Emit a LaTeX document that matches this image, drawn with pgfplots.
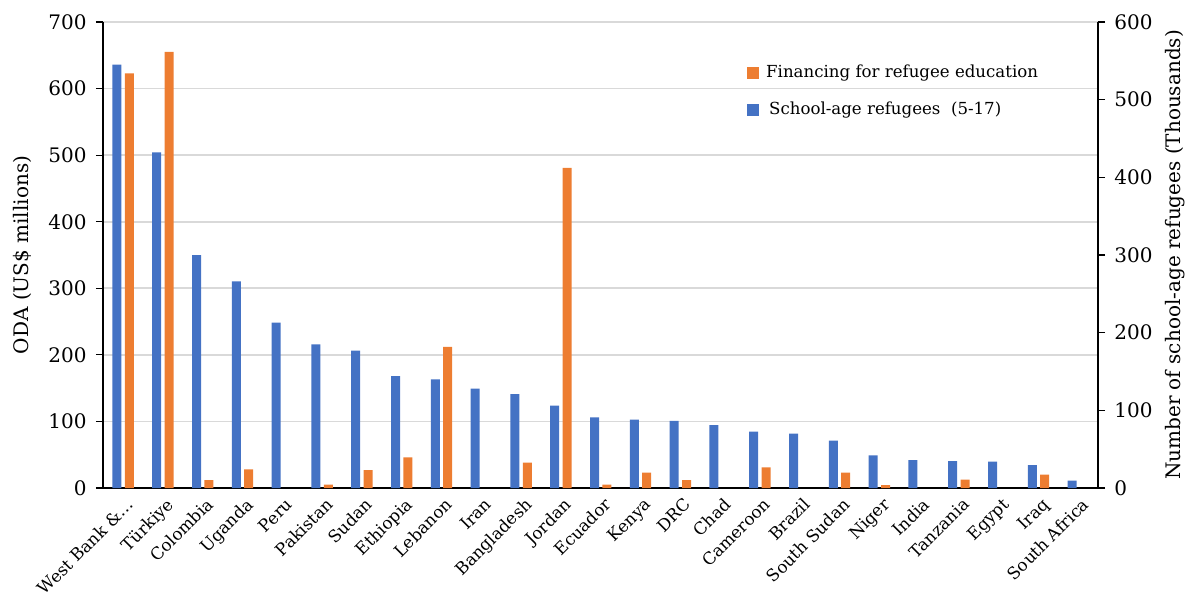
\documentclass[border=0pt]{standalone}
\usepackage{fontspec}
\setmainfont{DejaVu Serif}
\usepackage{pgfplots}
\pgfplotsset{compat=1.18}
\definecolor{cblue}{HTML}{4472C4}
\definecolor{corange}{HTML}{ED7D31}
\definecolor{cgrid}{HTML}{D9D9D9}
\begin{document}
\begin{tikzpicture}
\path[use as bounding box] (-51.5pt,-51.5pt) rectangle (541.5pt,244pt);
\pgfplotsset{
  common/.style={
    at={(0,0)}, anchor=south west,
    scale only axis, width=497.5pt, height=233pt,
    xmin=-0.5, xmax=24.5,
    ybar, bar width=4.5pt,
    /pgf/number format/assume math mode=true,
    yticklabel style={font=\fontsize{10}{11}\selectfont, inner sep=4.5pt},
    tick align=outside, major tick length=3.5pt,
    tick style={black, line width=0.6pt},
    axis line style={black, line width=0.8pt},
    ylabel style={font=\fontsize{9.4}{11}\selectfont},
  }
}
\begin{axis}[common,
  axis x line*=bottom, axis y line*=left,
  ymin=0, ymax=700, ytick={0,100,...,700},
  ymajorgrids, grid style={cgrid, line width=0.9pt},
  xtick={0,...,24}, xtick style={draw=none},
  xticklabels={West Bank \&…, Türkiye, Colombia, Uganda, Peru, Pakistan, Sudan, Ethiopia, Lebanon, Iran, Bangladesh, Jordan, Ecuador, Kenya, DRC, Chad, Cameroon, Brazil, South Sudan, Niger, India, Tanzania, Egypt, Iraq, South Africa},
  xticklabel style={rotate=45, anchor=north east, inner sep=1pt, yshift=-0.5pt, xshift=1.5pt, font=\fontsize{8.4}{10}\selectfont},
  ylabel={ODA (US\$ millions)},
  every axis y label/.style={at={(axis description cs:-0.0814,0.5)}, rotate=90, anchor=center},
  legend style={at={(axis description cs:0.641,0.925)}, anchor=north west, draw=none, fill=none,
    font=\fontsize{8.3}{10}\selectfont, row sep=6.5pt, legend cell align=left},
  legend image code/.code={\fill[#1] (0pt,-3pt) rectangle (6pt,3pt);},
]
\addplot[fill=corange, draw=none, bar shift=3.2pt] coordinates {
(0,623) (1,655) (2,12) (3,28) (5,5) (6,27) (7,46) (8,212) (10,38) (11,481) (12,5) (13,23) (14,12) (16,31) (18,23) (19,4.5) (21,12.5) (23,20)
};
\addlegendentry{\hspace{1.5pt}Financing for refugee education}
\addlegendimage{fill=cblue, draw=none}
\addlegendentry{\hspace{3pt}School-age refugees\ \ (5-17)}
\end{axis}
\begin{axis}[common,
  axis x line=none, axis y line*=right,
  ymin=0, ymax=600, ytick={0,100,...,600},
  ylabel={Number of school-age refugees (Thousands)},
  every axis y label/.style={at={(axis description cs:1.0774,0.5)}, rotate=90, anchor=center},
]
\addplot[fill=cblue, draw=none, bar shift=-3pt] coordinates {
(0,545) (1,432) (2,300) (3,266) (4,213) (5,185) (6,177) (7,144) (8,140) (9,128) (10,121) (11,106) (12,91) (13,88) (14,86.5) (15,81) (16,72.5) (17,70) (18,61) (19,42) (20,36) (21,34.5) (22,34) (23,29.5) (24,9.5)
};
\end{axis}
\end{tikzpicture}
\end{document}
